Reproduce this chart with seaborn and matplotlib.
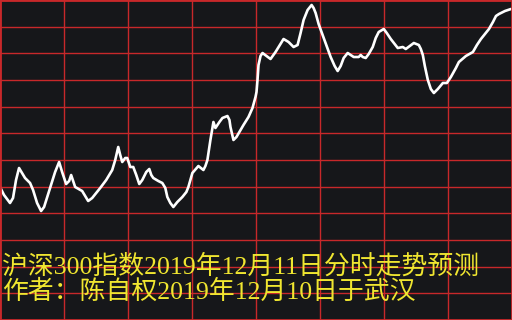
import matplotlib
matplotlib.use("Agg")
import matplotlib.pyplot as plt
import seaborn as sns
import numpy as np
import pandas as pd

# sample index (0..511) and relative level (0..320)
sample = [0, 4, 10, 13, 16, 19, 22, 25, 30, 33, 37, 41, 44, 50, 55, 59, 62, 66, 69, 71,
          73, 75, 82, 85, 88, 92, 100, 106, 112, 115, 118, 120, 122, 125, 127, 130, 133, 136, 139, 142,
          146, 149, 151, 153, 158, 162, 165, 167, 170, 173, 177, 182, 186, 188, 190, 192, 198, 203, 205, 207,
          210, 213, 215, 219, 222, 227, 229, 230, 233, 236, 243, 248, 252, 255, 256, 257, 258, 260, 262, 266,
          270, 275, 283, 288, 293, 297, 300, 303, 307, 311, 313, 315, 318, 322, 326, 330, 334, 337, 340, 343,
          347, 353, 358, 360, 362, 365, 368, 372, 375, 378, 383, 386, 390, 397, 402, 405, 409, 413, 418, 420,
          422, 424, 427, 430, 433, 437, 442, 446, 450, 455, 458, 465, 472, 476, 480, 484, 488, 492, 495, 498,
          504, 510]
level = [133, 125, 117, 122, 140, 152, 147, 142, 137, 130, 117, 109, 113, 132, 148, 158, 148, 136, 139, 145,
         139, 133, 129, 124, 119, 122, 132, 140, 150, 160, 173, 165, 158, 162, 162, 153, 153, 145, 136, 140,
         148, 151, 145, 142, 139, 137, 132, 123, 117, 113, 118, 123, 128, 133, 140, 147, 154, 150, 154, 160,
         180, 198, 192, 198, 202, 204, 200, 193, 180, 183, 195, 203, 212, 223, 228, 240, 255, 264, 267, 264,
         261, 268, 281, 278, 273, 275, 287, 300, 310, 315, 312, 307, 296, 285, 274, 263, 254, 249, 254, 262,
         267, 263, 263, 265, 263, 262, 266, 273, 282, 288, 291, 287, 281, 272, 273, 271, 274, 277, 275, 271,
         265, 254, 240, 231, 227, 231, 237, 237, 243, 252, 258, 264, 268, 275, 281, 286, 291, 298, 304, 306,
         309, 311]

title_lines = ["沪深300指数2019年12月11日分时走势预测",
               "作者：陈自权2019年12月10日于武汉"]

df = pd.DataFrame({"sample": sample, "level": level})

bg = "#16171a"
grid_c = "#c8282a"
sns.set_theme(style="dark")
plt.rcParams['font.family'] = ['Liberation Serif', 'Noto Sans CJK SC', 'DejaVu Sans']

fig = plt.figure(figsize=(5.12, 3.2), dpi=100, facecolor=bg)
ax = fig.add_axes([0, 0, 1, 1])
ax.set_facecolor(bg)

ax.set_xlim(0, 511)
ax.set_ylim(0, 320)
ax.set_xticks(np.linspace(0, 511, 9))
ax.set_yticks(np.linspace(0, 320, 13))
ax.grid(True, color=grid_c, linewidth=1.0)
ax.tick_params(length=0, labelbottom=False, labelleft=False)
for s in ax.spines.values():
    s.set_color(grid_c)
    s.set_linewidth(2.0)

sns.lineplot(data=df, x="sample", y="level", ax=ax, color="white", linewidth=1.9,
             sort=False, estimator=None, solid_joinstyle="round", solid_capstyle="round")
ax.set_xlabel("")
ax.set_ylabel("")

ax.text(0.004, 1 - 266.5 / 320, title_lines[0], transform=ax.transAxes, color="#f0e630",
        fontsize=18.6, va="center", ha="left")
ax.text(0.004, 1 - 291.5 / 320, title_lines[1], transform=ax.transAxes, color="#f0e630",
        fontsize=18.6, va="center", ha="left")

fig.savefig("out.png", dpi=100, facecolor=bg)
